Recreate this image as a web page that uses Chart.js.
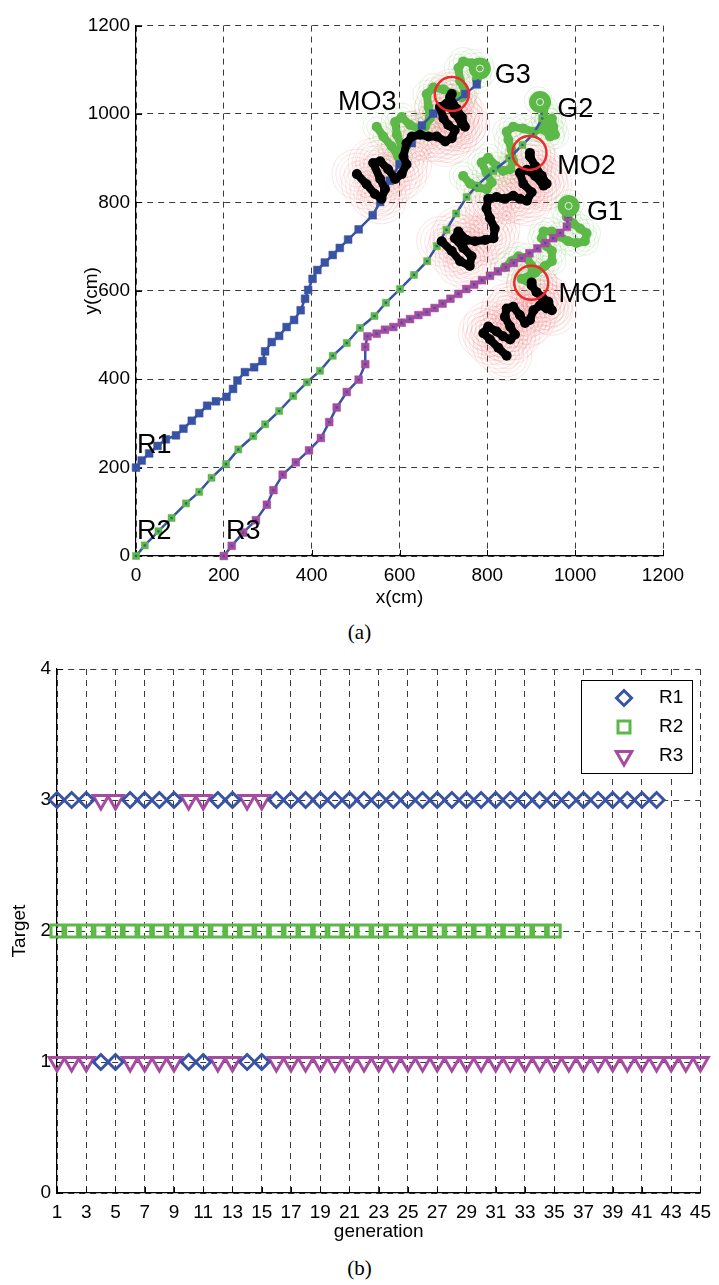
<!DOCTYPE html>
<html>
<head>
<meta charset="utf-8">
<script src="https://cdn.jsdelivr.net/npm/chart.js@4.4.1/dist/chart.umd.min.js"></script>
<style>
  html, body { margin: 0; padding: 0; background: #fff; }
  body { width: 719px; height: 1285px; position: relative; overflow: hidden; }
  #wrapA { position: absolute; left: 0; top: 0; width: 719px; height: 615px; }
  #wrapB { position: absolute; left: 0; top: 645px; width: 719px; height: 605px; }
  .cap { position: absolute; left: 0; width: 719px; text-align: center; line-height: 24px;
         font-family: 'Liberation Serif', 'DejaVu Serif', serif; font-size: 21px; color: #000; }
</style>
</head>
<body>
<div id="wrapA"><canvas id="pathChart"></canvas></div>
<div class="cap" style="top:620px">(a)</div>
<div id="wrapB"><canvas id="targetChart"></canvas></div>
<div class="cap" style="top:1256px">(b)</div>
<script>
// ---- (a) robot paths, cm ----
const r1Path = [[0,200],[13,216],[30,232],[49,249],[68,264],[91,273],[108,288],[127,306],[144,323],[162,340],[182,350],[206,360],[221,378],[231,397],[248,416],[269,427],[288,441],[294,463],[309,484],[326,498],[343,518],[360,534],[375,556],[385,582],[392,602],[402,627],[413,647],[430,664],[448,681],[464,697],[483,716],[507,739],[539,771],[556,801],[578,849],[600,886],[628,934],[651,974],[677,1001],[715,1020],[750,1045],[776,1067],[785,1100]];
const r2Path = [[0,0],[20,24],[51,56],[81,86],[114,119],[144,145],[172,177],[205,208],[233,241],[267,271],[294,298],[326,328],[358,362],[389,393],[419,419],[448,453],[480,482],[510,516],[543,543],[569,573],[601,604],[633,636],[663,667],[685,701],[707,738],[729,775],[753,812],[776,838],[814,871],[850,900],[880,930],[905,955],[925,990],[920,1027]];
const r3Path = [[200,0],[218,23],[244,53],[273,81],[298,116],[313,149],[334,184],[364,212],[394,239],[421,267],[440,303],[457,336],[480,371],[507,399],[522,434],[522,473],[527,497],[548,503],[567,512],[586,518],[605,528],[624,536],[643,545],[662,552],[680,561],[698,571],[716,582],[734,593],[752,604],[770,614],[788,624],[806,634],[824,644],[842,653],[860,663],[878,674],[896,685],[914,696],[932,708],[950,719],[966,731],[981,745],[984,767],[986,790]];

// moving obstacles (black) and avoidance trails (green)
const mo1Path = [[844,453],[825,471],[806,490],[791,504],[802,519],[821,508],[836,497],[852,490],[863,501],[852,519],[840,541],[844,560],[859,564],[874,545],[886,527],[897,534],[905,556],[920,567],[935,560],[947,556],[939,575],[924,586],[912,597],[901,612],[901,619]];
const mo2Path = [[696,712],[719,690],[738,667],[760,656],[764,678],[745,697],[726,719],[734,734],[753,715],[772,712],[795,715],[814,719],[817,741],[806,764],[798,786],[802,808],[821,812],[840,808],[859,815],[874,808],[890,804],[901,823],[882,842],[874,867],[890,874],[909,860],[928,838],[935,842],[924,860],[909,882],[897,904],[897,912]];
const mo3Path = [[503,864],[525,841],[544,819],[559,808],[567,830],[556,853],[540,889],[556,893],[574,875],[590,853],[605,864],[616,886],[609,904],[616,934],[628,949],[647,953],[666,949],[685,949],[704,938],[719,945],[726,964],[711,975],[700,990],[692,1016],[707,1023],[726,1001],[742,978],[749,971],[742,993],[730,1012],[715,1038],[719,1045]];
const av1Path = [[840,653],[855,667],[871,678],[890,675],[901,656],[901,638],[890,623],[878,627],[909,641],[931,656],[947,667],[947,690],[935,701],[924,719],[928,734],[947,734],[965,723],[984,712],[1003,708],[1022,712],[1026,730],[1011,741],[996,752],[981,767],[977,786],[988,797]];
const av2Path = [[745,860],[761,842],[779,834],[798,830],[810,845],[798,867],[787,890],[802,901],[821,882],[836,871],[852,875],[859,893],[855,919],[848,941],[844,960],[859,971],[882,967],[905,960],[924,967],[939,982],[947,990],[950,971],[954,953],[943,949],[931,964],[931,990],[928,1012],[916,1030]];
const av3Path = [[548,971],[563,949],[582,927],[597,904],[605,927],[594,953],[590,982],[605,993],[624,975],[643,967],[658,971],[669,990],[666,1016],[662,1045],[677,1060],[700,1056],[723,1045],[742,1038],[749,1052],[738,1075],[734,1104],[745,1119],[764,1115],[783,1108],[787,1093],[776,1078]];

const goalPoints = [[985,792],[920,1027],[783,1103]];
const moEndPoints = [[900,618],[896,912],[719,1045]];

const markNames = ['R1', 'R2', 'R3', 'MO3', 'G3', 'G2', 'MO2', 'G1', 'MO1'];
const markAt = [[2,233],[2,38],[205,38],[460,1009],[817,1071],[959,993],[959,864],[1027,760],[962,575]];
const cmTicks = [0, 200, 400, 600, 800, 1000, 1200];

// ---- (b) target per generation ----
const generations = [1,2,3,4,5,6,7,8,9,10,11,12,13,14,15,16,17,18,19,20,21,22,23,24,25,26,27,28,29,30,31,32,33,34,35,36,37,38,39,40,41,42,43,44,45];
const r1Target = [3,3,3,1,1,3,3,3,3,1,1,3,3,1,1,3,3,3,3,3,3,3,3,3,3,3,3,3,3,3,3,3,3,3,3,3,3,3,3,3,3,3];
const r2Target = [2,2,2,2,2,2,2,2,2,2,2,2,2,2,2,2,2,2,2,2,2,2,2,2,2,2,2,2,2,2,2,2,2,2,2];
const r3Target = [1,1,1,3,3,1,1,1,1,3,3,1,1,3,3,1,1,1,1,1,1,1,1,1,1,1,1,1,1,1,1,1,1,1,1,1,1,1,1,1,1,1,1,1,1];
const genTicks = [1,3,5,7,9,11,13,15,17,19,21,23,25,27,29,31,33,35,37,39,41,43,45];
const targetTicks = [0, 1, 2, 3, 4];

const BLUE = '#3953a4', GREEN = '#5cb947', PURPLE = '#a64ca0', RED = '#ee2a2a';
const SANS = "'Liberation Sans', Arial, sans-serif";
const pts = (arr) => arr.map(([x, y]) => ({ x, y }));

const innerTicks = {
  id: 'innerTicks',
  beforeDatasetsDraw(chart) {
    const { ctx, chartArea: a, scales: { x, y } } = chart;
    ctx.save();
    ctx.strokeStyle = '#000';
    ctx.lineWidth = 1;
    ctx.beginPath();
    x.ticks.forEach(t => {
      const px = Math.round(x.getPixelForValue(t.value)) + 0.5;
      ctx.moveTo(px, a.bottom); ctx.lineTo(px, a.bottom - 6);
    });
    y.ticks.forEach(t => {
      const py = Math.round(y.getPixelForValue(t.value)) + 0.5;
      ctx.moveTo(a.left, py); ctx.lineTo(a.left + 6, py);
    });
    ctx.stroke();
    ctx.restore();
  }
};

const mapLabels = {
  id: 'mapLabels',
  afterDatasetsDraw(chart) {
    const { ctx, scales: { x, y } } = chart;
    ctx.save();
    ctx.font = '27px ' + SANS;
    ctx.fillStyle = '#000';
    ctx.textBaseline = 'alphabetic';
    markNames.forEach((name, i) => {
      ctx.fillText(name, x.getPixelForValue(markAt[i][0]), y.getPixelForValue(markAt[i][1]));
    });
    ctx.restore();
  }
};

const boxLegend = {
  id: 'boxLegend',
  afterDraw(chart) {
    const { ctx, chartArea: a } = chart;
    const w = 111, h = 93;
    const left = Math.round(a.right - 8 - w), top = Math.round(a.top + 11);
    ctx.save();
    ctx.fillStyle = '#fff';
    ctx.fillRect(left, top, w, h);
    ctx.strokeStyle = '#000';
    ctx.lineWidth = 1;
    ctx.strokeRect(left + 0.5, top + 0.5, w, h);
    ctx.font = '19px ' + SANS;
    ctx.textBaseline = 'middle';
    chart.data.datasets.forEach((ds, i) => {
      const cy = top + 18 + i * 29;
      ctx.strokeStyle = ds.borderColor;
      ctx.lineWidth = ds.pointBorderWidth;
      ctx.fillStyle = 'rgba(0,0,0,0)';
      Chart.helpers.drawPoint(ctx, {
        pointStyle: ds.pointStyle, rotation: ds.rotation || 0,
        radius: ds.pointRadius, borderWidth: ds.pointBorderWidth
      }, left + 43, cy);
      ctx.fillStyle = '#000';
      ctx.fillText(ds.label, left + 78, cy);
    });
    ctx.restore();
  }
};

const axisStyle = (title, titlePad, fit) => ({
  border: { display: true, color: '#000', width: 1.2, dash: [6, 5] },
  grid: { color: '#3a3a3a', lineWidth: 1, drawTicks: false },
  title: { display: true, text: title, color: '#000', font: { family: SANS, size: 19 }, padding: titlePad },
  afterFit: fit
});
const tickStyle = (pad) => ({
  color: '#000', font: { family: SANS, size: 19 }, padding: pad,
  maxRotation: 0, autoSkip: false, callback: (v) => String(v)
});

// pink / light green rings around obstacle and avoidance trails
const ringSets = [];
[9, 13, 17, 21, 25].forEach(r => {
  [mo1Path, mo2Path, mo3Path].forEach(path => ringSets.push({
    data: pts(path), showLine: false, pointRadius: r, pointBorderWidth: 0.6,
    pointBorderColor: 'rgba(240,110,110,0.3)', pointBackgroundColor: 'rgba(0,0,0,0)',
    order: 20, clip: false
  }));
});
[10, 14].forEach(r => {
  [av1Path, av2Path, av3Path].forEach(path => ringSets.push({
    data: pts(path), showLine: false, pointRadius: r, pointBorderWidth: 0.6,
    pointBorderColor: 'rgba(110,190,90,0.3)', pointBackgroundColor: 'rgba(0,0,0,0)',
    order: 19, clip: false
  }));
});

const robotLine = (path, fill, size, order) => ({
  data: pts(path), showLine: true, borderColor: BLUE, borderWidth: 2.5, tension: 0,
  pointStyle: 'rect', pointRadius: size, pointBackgroundColor: fill,
  pointBorderColor: fill, pointBorderWidth: 0.5, order, clip: false
});
const robotDots = (path) => ({
  data: pts(path), showLine: false, pointStyle: 'rect', pointRadius: 1.6,
  pointBackgroundColor: BLUE, pointBorderWidth: 0, order: 7, clip: false
});
const trail = (path, color, width, size, order) => ({
  data: pts(path), showLine: true, borderColor: color, borderWidth: width, tension: 0,
  borderJoinStyle: 'round', borderCapStyle: 'round',
  pointRadius: size, pointBackgroundColor: color, pointBorderWidth: 0, order, clip: false
});

const pathDatasets = [
  ...ringSets,
  trail(av1Path, GREEN, 8, 5, 12),
  trail(av2Path, GREEN, 8, 5, 12),
  trail(av3Path, GREEN, 8, 5, 12),
  robotLine(r1Path, BLUE, 5.5, 9),
  robotLine(r2Path, GREEN, 5, 9),
  robotLine(r3Path, PURPLE, 5.5, 9),
  robotDots(r2Path),
  robotDots(r3Path),
  trail(mo1Path, '#000', 8, 5, 5),
  trail(mo2Path, '#000', 8, 5, 5),
  trail(mo3Path, '#000', 8, 5, 5),
  { data: pts(moEndPoints), showLine: false, pointRadius: 17, pointBorderWidth: 2.5,
    pointBorderColor: RED, pointBackgroundColor: 'rgba(0,0,0,0)', order: 3, clip: false },
  { data: pts(goalPoints), showLine: false, pointRadius: 10, pointBorderWidth: 2,
    pointBorderColor: GREEN, pointBackgroundColor: GREEN, order: 2, clip: false },
  { data: pts(goalPoints), showLine: false, pointRadius: 3.5, pointBorderWidth: 1,
    pointBorderColor: 'rgba(255,255,255,0.85)', pointBackgroundColor: 'rgba(0,0,0,0)', order: 1, clip: false }
];

new Chart(document.getElementById('pathChart'), {
  type: 'scatter',
  data: { datasets: pathDatasets },
  options: {
    responsive: true, maintainAspectRatio: false, animation: false, devicePixelRatio: 1,
    layout: { padding: { top: 17, right: 56, left: 0, bottom: 0 } },
    plugins: { legend: { display: false }, tooltip: { enabled: false } },
    elements: { point: { hoverRadius: 0 } },
    scales: {
      x: {
        type: 'linear', min: 0, max: 1200,
        afterBuildTicks: (s) => { s.ticks = cmTicks.map(v => ({ value: v })); },
        ticks: tickStyle(8),
        ...axisStyle('x(cm)', { top: 0, bottom: 6 }, (s) => { s.height = 59; })
      },
      y: {
        type: 'linear', min: 0, max: 1200,
        afterBuildTicks: (s) => { s.ticks = cmTicks.map(v => ({ value: v })); },
        ticks: tickStyle(6),
        ...axisStyle('y(cm)', { top: 80, bottom: 0 }, (s) => { s.width = 136; })
      }
    }
  },
  plugins: [innerTicks, mapLabels]
});

const targetSet = (label, values, style, color, size, rotation) => ({
  label, data: values.map((v, i) => ({ x: generations[i], y: v })),
  showLine: false, pointStyle: style, rotation, pointRadius: size, pointHoverRadius: size,
  borderColor: color, pointBorderColor: color, borderWidth: 3, pointBorderWidth: 3,
  pointBackgroundColor: 'rgba(0,0,0,0)', clip: false
});

new Chart(document.getElementById('targetChart'), {
  type: 'scatter',
  data: {
    datasets: [
      targetSet('R1', r1Target, 'rectRot', BLUE, 7.5, 0),
      targetSet('R2', r2Target, 'rect', GREEN, 8.5, 0),
      targetSet('R3', r3Target, 'triangle', PURPLE, 9, 180)
    ]
  },
  options: {
    responsive: true, maintainAspectRatio: false, animation: false, devicePixelRatio: 1,
    layout: { padding: { top: 24, right: 11, left: 0, bottom: 0 } },
    plugins: { legend: { display: false }, tooltip: { enabled: false } },
    scales: {
      x: {
        type: 'linear', min: 1, max: 45,
        afterBuildTicks: (s) => { s.ticks = genTicks.map(v => ({ value: v })); },
        ticks: tickStyle(8),
        ...axisStyle('generation', { top: 0, bottom: 7 }, (s) => { s.height = 57; })
      },
      y: {
        type: 'linear', min: 0, max: 4,
        afterBuildTicks: (s) => { s.ticks = targetTicks.map(v => ({ value: v })); },
        ticks: tickStyle(6),
        ...axisStyle('Target', { top: 8, bottom: 0 }, (s) => { s.width = 57; })
      }
    }
  },
  plugins: [innerTicks, boxLegend]
});
</script>
</body>
</html>
